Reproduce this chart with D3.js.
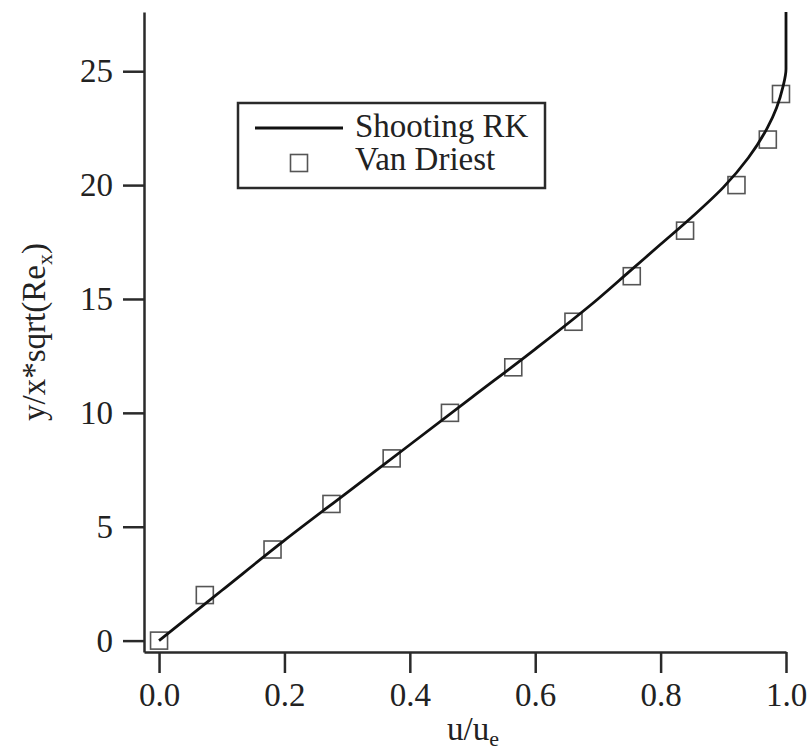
<!DOCTYPE html>
<html>
<head>
<meta charset="utf-8">
<script src="https://cdn.jsdelivr.net/npm/d3@7"></script>
<style>
  html, body { margin: 0; padding: 0; background: #ffffff; }
  svg { display: block; }
</style>
</head>
<body>
<svg id="chart" width="809" height="753"></svg>
<script>
// Boundary-layer velocity profile: shooting Runge-Kutta solution vs. Van Driest data
const rkU   = [0, 0.1, 0.2, 0.3, 0.4, 0.5, 0.6, 0.7, 0.75, 0.8, 0.85, 0.9, 0.94, 0.97, 0.985, 0.995, 1.0, 1.0];
const rkEta = [0, 2.2, 4.4, 6.5, 8.6, 10.7, 12.8, 15.0, 16.2, 17.4, 18.6, 19.9, 21.2, 22.5, 23.4, 24.3, 25.1, 27.6];

const vdU   = [0, 0.073, 0.181, 0.275, 0.371, 0.464, 0.565, 0.661, 0.754, 0.839, 0.921, 0.971, 0.992];
const vdEta = [0, 2, 4, 6, 8, 10, 12, 14, 16, 18, 20, 22, 24];

const xTicks = [0, 0.2, 0.4, 0.6, 0.8, 1.0];
const yTicks = [0, 5, 10, 15, 20, 25];

const legendLabels = ["Shooting RK", "Van Driest"];

const serif = "'Liberation Serif', 'DejaVu Serif', 'Times New Roman', serif";
const fontSize = 33;
const axisColor = "#2a2a2a";

const svg = d3.select("#chart")
  .style("font-family", serif);

const x = d3.scaleLinear().domain([-0.024, 1.0]).range([144, 786]);
const y = d3.scaleLinear().domain([-0.5, 27.6]).range([652, 12]);

// Axes
const xAxis = svg.append("g")
  .attr("transform", `translate(0,${y.range()[0]})`)
  .call(d3.axisBottom(x).tickValues(xTicks).tickFormat(d3.format(".1f"))
        .tickSize(21).tickSizeOuter(0).tickPadding(10));

const yAxis = svg.append("g")
  .attr("transform", `translate(${x.range()[0]},0)`)
  .call(d3.axisLeft(y).tickValues(yTicks).tickFormat(d3.format("d"))
        .tickSize(21).tickSizeOuter(0).tickPadding(10));

[xAxis, yAxis].forEach(g => {
  g.attr("font-family", null).attr("font-size", null);
  g.select(".domain").attr("stroke", axisColor).attr("stroke-width", 2.5);
  g.selectAll(".tick line").attr("stroke", axisColor).attr("stroke-width", 2.5);
  g.selectAll(".tick text")
    .style("font-family", serif)
    .style("font-size", fontSize + "px")
    .attr("fill", "#222");
});

// Axis titles
const xTitle = svg.append("text")
  .attr("x", (x.range()[0] + x.range()[1]) / 2 + 8)
  .attr("y", 740)
  .attr("text-anchor", "middle")
  .attr("fill", "#222")
  .style("font-family", serif)
  .style("font-size", fontSize + "px");
xTitle.append("tspan").text("u/u");
xTitle.append("tspan").style("font-size", "22px").attr("dy", 6).text("e");

const yTitle = svg.append("text")
  .attr("transform", `translate(45,${(y.range()[0] + y.range()[1]) / 2}) rotate(-90)`)
  .attr("text-anchor", "middle")
  .attr("fill", "#222")
  .style("font-family", serif)
  .style("font-size", fontSize + "px");
yTitle.append("tspan").text("y/x*sqrt(Re");
yTitle.append("tspan").style("font-size", "22px").attr("dy", 7).text("x");
yTitle.append("tspan").attr("dy", -7).text(")");

// Van Driest markers
const sq = 17;
svg.append("g")
  .selectAll("rect")
  .data(vdU.map((u, i) => [u, vdEta[i]]))
  .join("rect")
  .attr("x", d => x(d[0]) - sq / 2)
  .attr("y", d => y(d[1]) - sq / 2)
  .attr("width", sq)
  .attr("height", sq)
  .attr("fill", "none")
  .attr("stroke", "#555")
  .attr("stroke-width", 1.6);

// Shooting RK curve
const line = d3.line()
  .x(d => x(d[0]))
  .y(d => y(d[1]))
  .curve(d3.curveMonotoneY);

svg.append("path")
  .datum(rkU.map((u, i) => [u, rkEta[i]]))
  .attr("d", line)
  .attr("fill", "none")
  .attr("stroke", "#111")
  .attr("stroke-width", 2.8);

// Legend
const lg = svg.append("g");
lg.append("rect")
  .attr("x", 238).attr("y", 103).attr("width", 307).attr("height", 85)
  .attr("fill", "#fff").attr("stroke", axisColor).attr("stroke-width", 2.5);
lg.append("line")
  .attr("x1", 255).attr("x2", 343).attr("y1", 128).attr("y2", 128)
  .attr("stroke", "#111").attr("stroke-width", 2.8);
lg.append("rect")
  .attr("x", 299 - sq / 2).attr("y", 163 - sq / 2).attr("width", sq).attr("height", sq)
  .attr("fill", "none").attr("stroke", "#555").attr("stroke-width", 1.6);
lg.selectAll("text.lab")
  .data(legendLabels)
  .join("text")
  .attr("class", "lab")
  .attr("x", 355)
  .attr("y", (d, i) => 137 + i * 33)
  .attr("fill", "#222")
  .style("font-family", serif)
  .style("font-size", fontSize + "px")
  .text(d => d);
</script>
</body>
</html>
